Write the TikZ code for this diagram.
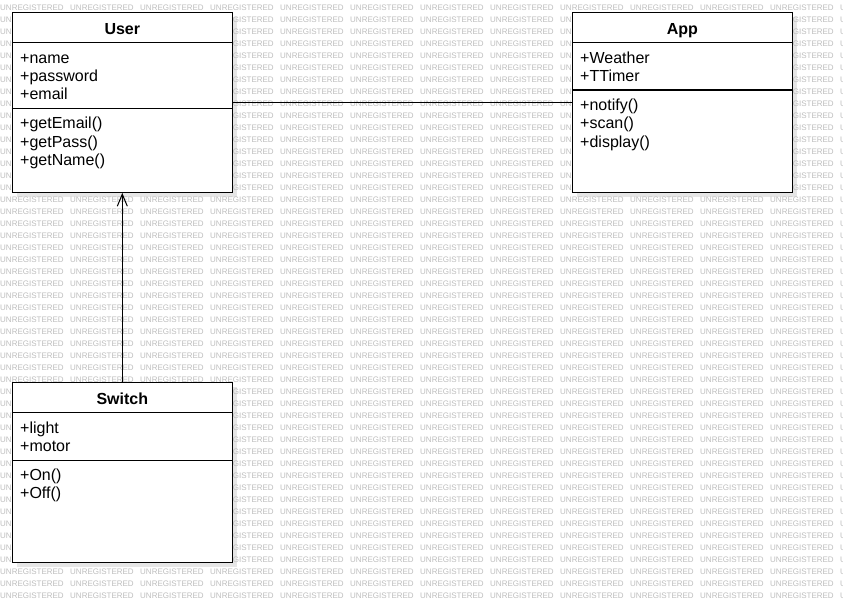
\documentclass[tikz,border=0pt]{standalone}
\usepackage{fontspec}
\setmainfont{Liberation Sans}
\usepackage{xcolor}
\usetikzlibrary{arrows.meta,positioning}
\definecolor{umlink}{HTML}{000000}
\definecolor{umlshadow}{HTML}{E6E6E6}
\definecolor{wmgray}{HTML}{BEBEBE}

\tikzset{
  classbox/.style={draw=umlink,line width=1.2pt,fill=white,minimum width=220pt,inner sep=0pt},
  classtitle/.style={anchor=base,inner sep=0pt,font=\fontsize{16}{18}\selectfont\bfseries},
  member/.style={anchor=base west,inner sep=0pt,font=\fontsize{16}{18}\selectfont},
  wmtext/.style={anchor=base west,inner sep=0pt,text=wmgray,font=\fontsize{8}{9}\selectfont},
  assoc/.style={draw=umlink,line width=1pt}
}

\begin{document}
\begin{tikzpicture}[x=1pt,y=-1pt]
\useasboundingbox[fill=white] (0,0) rectangle (843,612);
% shadows
\foreach \cx/\cy in {122.3/102.3,682.3/102.3,122.3/472.3}
  \fill[umlshadow] (\cx-110+5,\cy-90+5) rectangle (\cx+110+5,\cy+90+5);
% watermark
\foreach \i in {0,...,12} {
  \foreach \j in {0,...,49} {
    \node[wmtext] (wm-\i-\j) at (70*\i,10.4+12*\j) {UNREGISTERED};
  }
}
% class boxes
\foreach \name/\title/\cx/\cy/\split in {
  user/User/122.3/102.3/97,
  app/App/682.3/102.3/78.4,
  switch/Switch/122.3/472.3/78.4} {
  \node[classbox,minimum height=180pt] (\name) at (\cx,\cy) {};
  \node[classtitle] (\name-title) at (\cx,\cy-90+22.3) {\title};
  \draw[line width=1.2pt] ([yshift=-31pt]\name.north west) -- ([yshift=-31pt]\name.north east);
  \draw[line width=1.2pt] ([yshift=-\split pt]\name.north west) -- ([yshift=-\split pt]\name.north east);
}
% attributes and operations
\foreach \x/\y/\txt [count=\k] in {
  20/63.3/+name, 20/81.6/+password, 20/99.9/+email,
  20/129/+getEmail(), 20/147.3/+getPass(), 20/165.6/+getName(),
  580/63.3/+Weather, 580/81.6/+TTimer,
  580/110.5/+notify(), 580/128.8/+scan(), 580/147.1/+display(),
  20/433.3/+light, 20/451.6/+motor,
  20/480.5/+On(), 20/498.8/+Off()} {
  \node[member] (member-\k) at (\x,\y) {\txt};
}
% relations
\draw[assoc,-{Straight Barb[length=12pt,width=10pt]}] (switch.north) -- (user.south);
\draw[assoc] (user.east) -- (app.west);
\end{tikzpicture}
\end{document}
